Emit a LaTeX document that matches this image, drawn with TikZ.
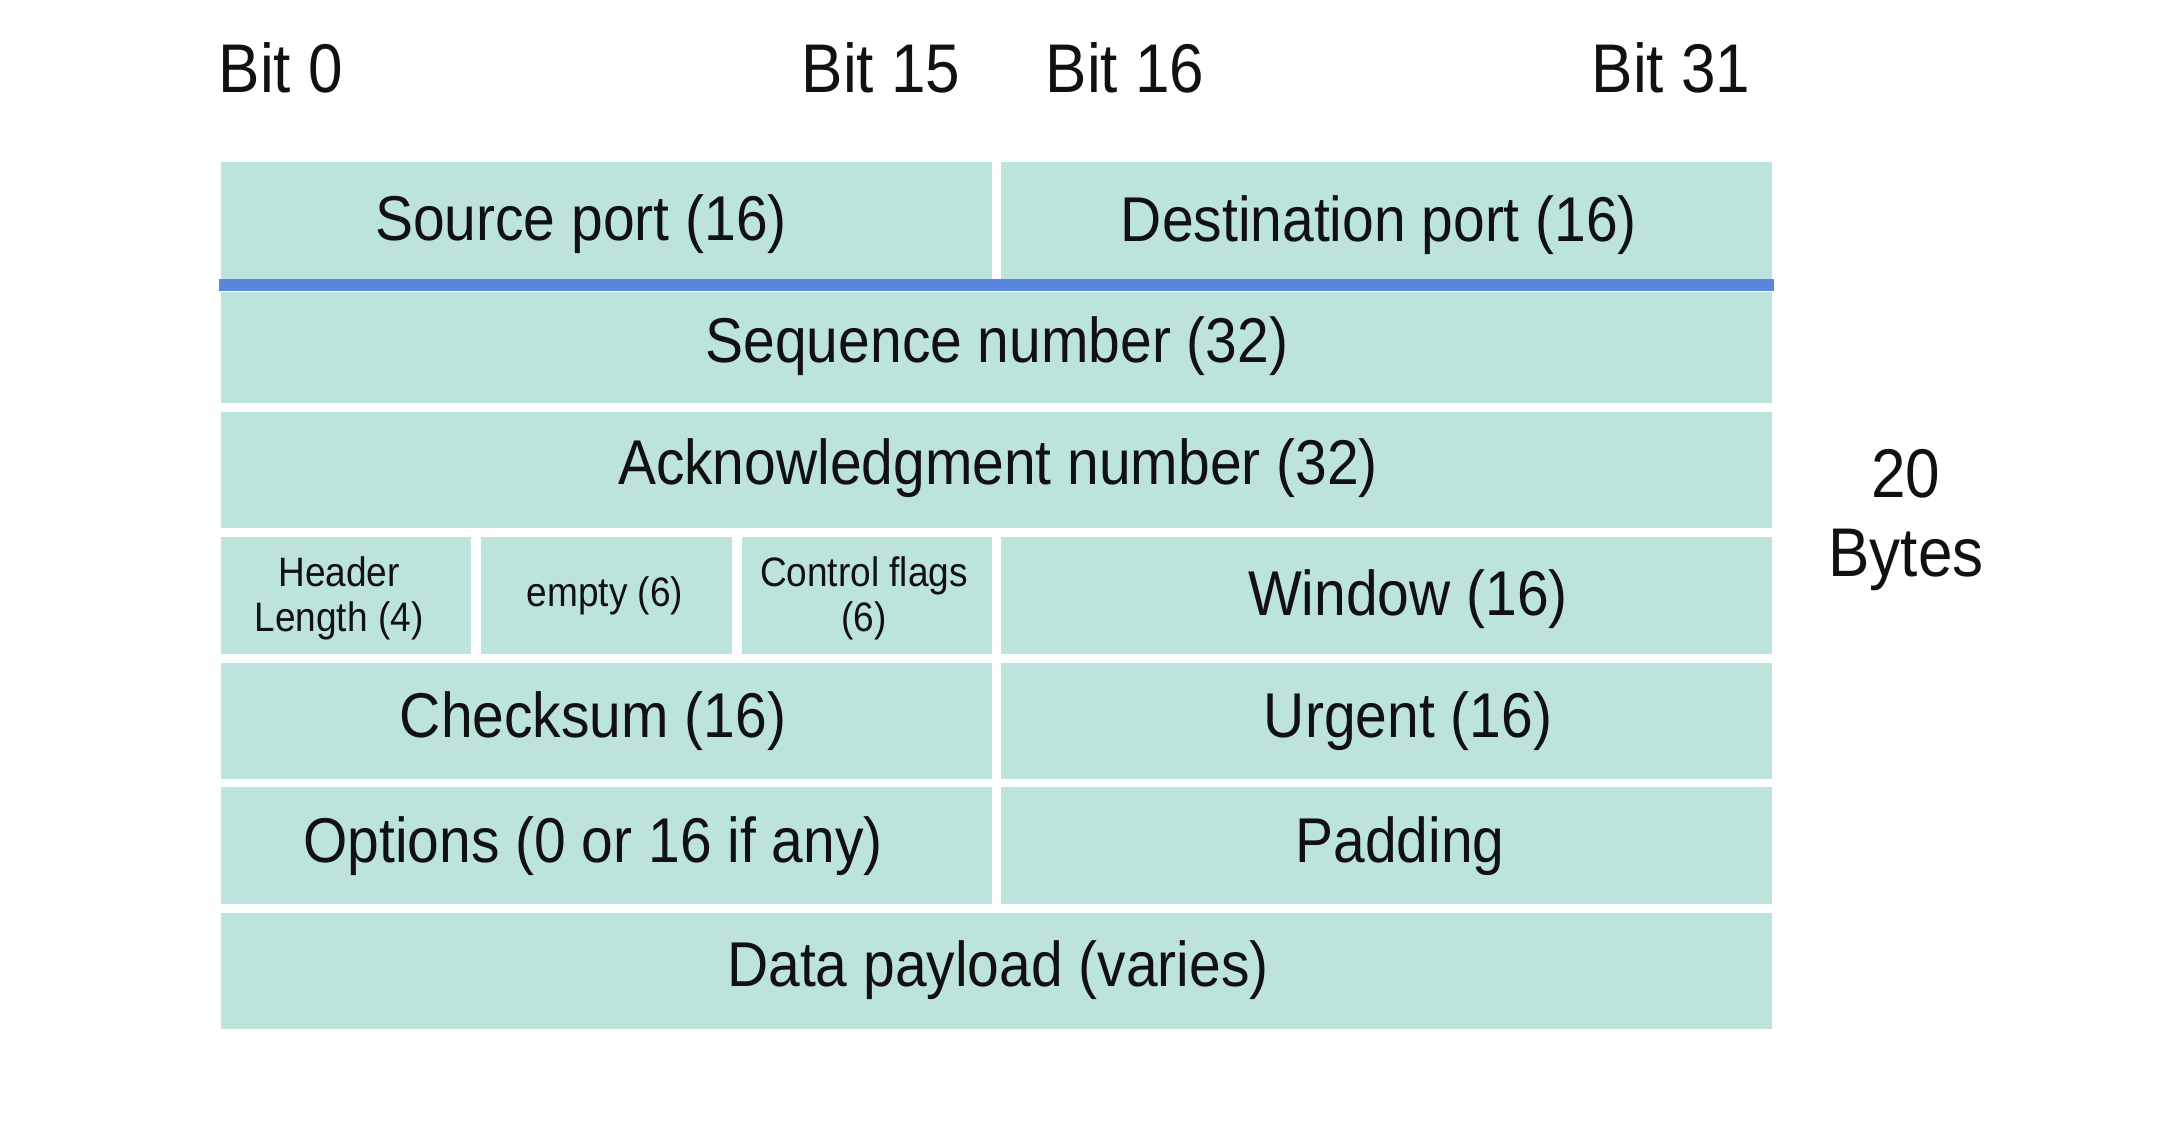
\documentclass[tikz,border=0pt]{standalone}
\usepackage{fontspec}
\setmainfont[FakeStretch=0.9]{Liberation Sans}
\usetikzlibrary{fit}
\definecolor{cellc}{HTML}{BCE3DC}
\definecolor{barc}{HTML}{5A86DF}
\definecolor{txtc}{HTML}{111111}
\begin{document}
\begin{tikzpicture}[x=0.01cm,y=-0.01cm,
  cell/.style={fill=cellc, draw=none, inner sep=0pt, outer sep=0pt},
  bar/.style={fill=barc, draw=none, inner sep=0pt, outer sep=0pt},
  big/.style={text=txtc, inner sep=0pt, font=\fontsize{18}{21}\selectfont},
  small/.style={text=txtc, inner sep=0pt, align=center, font=\fontsize{11.7}{12.8}\selectfont},
  bitlab/.style={text=txtc, inner sep=0pt, font=\fontsize{19.6}{23}\selectfont}]
\useasboundingbox[fill=white] (0,0) rectangle (2162,1136);
% cells
\node[cell, fit={(221,162)(992,279)}] (src) {};
\node[cell, fit={(1001,162)(1772,279)}] (dst) {};
\node[bar, fit={(219,279)(1774,291)}] (line) {};
\node[cell, fit={(221,292)(1772,403)}] (seq) {};
\node[cell, fit={(221,412)(1772,528)}] (ack) {};
\node[cell, fit={(221,537)(471,654)}] (hlen) {};
\node[cell, fit={(481,537)(732,654)}] (empty) {};
\node[cell, fit={(742,537)(992,654)}] (ctrl) {};
\node[cell, fit={(1001,537)(1772,654)}] (win) {};
\node[cell, fit={(221,663)(992,779)}] (chk) {};
\node[cell, fit={(1001,663)(1772,779)}] (urg) {};
\node[cell, fit={(221,787)(992,904)}] (opt) {};
\node[cell, fit={(1001,787)(1772,904)}] (pad) {};
\node[cell, fit={(221,913)(1772,1029)}] (data) {};
% texts
\node[big] (tsrc) at (581,224) {Source port (16)};
\node[big] (tdst) at (1379,225) {Destination port (16)};
\node[big] (tseq) at (997,346) {Sequence number (32)};
\node[big] (tack) at (998,468) {Acknowledgment number (32)};
\node[small] (thlen) at (339,598) {Header\\Length (4)};
\node[small] (tempty) at (605,596) {empty (6)};
\node[small] (tctrl) at (864,598) {Control flags\\(6)};
\node[big] (twin) at (1408,599) {Window (16)};
\node[big] (tchk) at (593,721) {Checksum (16)};
\node[big] (turg) at (1408,721) {Urgent (16)};
\node[big] (topt) at (593,846) {Options (0 or 16 if any)};
\node[big] (tpad) at (1400,846) {Padding};
\node[big] (tdata) at (998,970) {Data payload (varies)};
% bit labels
\node[bitlab, anchor=west] (b0) at (218,68) {Bit 0};
\node[bitlab, anchor=east] (b15) at (961,68) {Bit 15};
\node[bitlab, anchor=west] (b16) at (1045,68) {Bit 16};
\node[bitlab, anchor=east] (b31) at (1751,68) {Bit 31};
\node[bitlab, align=center, font=\fontsize{19.6}{22.5}\selectfont] (bytes) at (1906,520) {20\\Bytes};
\end{tikzpicture}
\end{document}
